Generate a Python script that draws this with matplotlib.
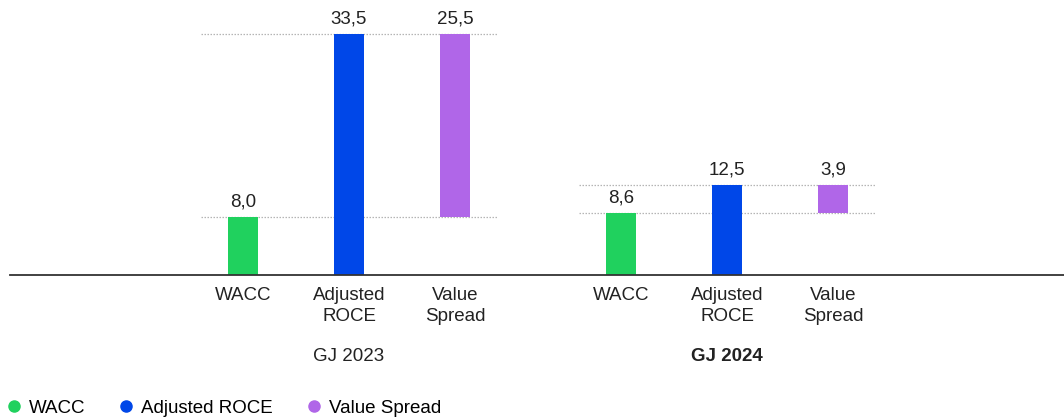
import numpy as np
import matplotlib.pyplot as plt
from matplotlib.lines import Line2D
from matplotlib.transforms import blended_transform_factory

plt.rcParams['font.family'] = ['Liberation Sans', 'DejaVu Sans']

groups = ["GJ 2023", "GJ 2024"]
bar_names = ["WACC", "Adjusted\nROCE", "Value\nSpread"]
legend_names = ["WACC", "Adjusted ROCE", "Value Spread"]
wacc = [8.0, 8.6]
roce = [33.5, 12.5]
spread = [25.5, 3.9]

colors = ["#20D15E", "#0047E8", "#B066E8"]
fs = 13.5

fig = plt.figure(figsize=(10.64, 4.18), dpi=100)
ax = fig.add_axes([10 / 1064, 143 / 418, 1054 / 1064, 251.8 / 418])

group_gap = 378 / 106
width = 30 / 106
ticks, labels = [], []
fmt = lambda v: f"{v:.1f}".replace(".", ",")
trans = blended_transform_factory(ax.transData, ax.transAxes)
for g in range(len(groups)):
    x0 = g * group_gap
    xs = [x0, x0 + 1, x0 + 2]
    ax.bar(xs[0], wacc[g], width, color=colors[0])
    ax.bar(xs[1], roce[g], width, color=colors[1])
    ax.bar(xs[2], spread[g], width, bottom=wacc[g], color=colors[2])
    # dotted guide lines
    for yv in (wacc[g], roce[g]):
        ax.plot([x0 - width / 2 - 0.255, xs[2] + width / 2 + 0.255], [yv, yv],
                color="#b5b5b5", lw=0.9, ls=(0, (1.2, 1.2)), zorder=0)
    for x, top, val in [(xs[0], wacc[g], wacc[g]), (xs[1], roce[g], roce[g]),
                        (xs[2], roce[g], spread[g])]:
        ax.annotate(fmt(val), (x, top), xytext=(0, 5), textcoords="offset points",
                    ha="center", va="bottom", fontsize=fs, color="#222222")
    ticks += xs
    labels += bar_names
    ax.text(xs[1], -0.325, groups[g], transform=trans, ha="center", va="center",
            fontsize=fs, color="#222222", fontweight="bold" if g == 1 else "normal")

ax.set_xlim((10 - 243) / 106, (1064 - 243) / 106)
ax.set_ylim(0, 35)
ax.set_xticks(ticks)
ax.set_xticklabels(labels, fontsize=fs, color="#222222", linespacing=1.3)
ax.tick_params(axis="x", length=0, pad=9)
ax.set_yticks([])
for s in ["top", "right", "left"]:
    ax.spines[s].set_visible(False)
ax.spines["bottom"].set_color("#333333")
ax.spines["bottom"].set_linewidth(1.3)

handles = [Line2D([], [], marker="o", ls="", color=c, markersize=8) for c in colors]
fig.legend(handles, legend_names, loc="center left", bbox_to_anchor=(6 / 1064, 1 - 408 / 418),
           ncol=3, frameon=False, fontsize=fs, handlelength=0.8, handletextpad=0.4,
           columnspacing=1.8, borderaxespad=0, borderpad=0)

fig.savefig("out.png", dpi=100)
